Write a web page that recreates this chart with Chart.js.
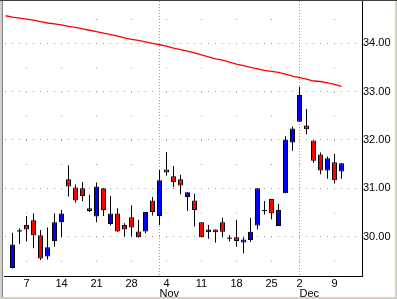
<!DOCTYPE html>
<html><head><meta charset="utf-8">
<script src="https://cdn.jsdelivr.net/npm/chart.js@4/dist/chart.umd.min.js"></script>
<style>html,body{margin:0;padding:0;background:#fff;overflow:hidden}canvas{display:block}</style>
</head><body>
<canvas id="c" width="397" height="299"></canvas>
<script>
// ---- data (2002 trading days) ----
const days = ['Oct 3','Oct 4','Oct 7','Oct 8','Oct 9','Oct 10','Oct 11','Oct 14','Oct 15','Oct 16','Oct 17','Oct 18',
  'Oct 21','Oct 22','Oct 23','Oct 24','Oct 25','Oct 28','Oct 29','Oct 30','Oct 31','Nov 1','Nov 4','Nov 5','Nov 6','Nov 7','Nov 8',
  'Nov 11','Nov 12','Nov 13','Nov 14','Nov 15','Nov 18','Nov 19','Nov 20','Nov 21','Nov 22','Nov 25','Nov 26','Nov 27','Nov 29',
  'Dec 2','Dec 3','Dec 4','Dec 5','Dec 6','Dec 9','Dec 10'];
const open  = [29.35,30.12,30.24,30.34,30.03,29.59,29.91,30.30,31.19,31.02,31.00,30.59,30.42,31.00,30.26,30.48,30.24,30.40,30.11,30.11,30.75,30.43,31.39,31.25,31.19,30.82,30.75,30.30,30.09,30.15,30.30,29.97,29.99,29.88,29.93,30.23,30.54,30.78,30.22,30.90,31.95,32.38,32.30,31.99,31.70,31.37,31.54,31.35];
const high  = [30.08,30.17,30.43,30.48,30.14,30.19,30.48,30.55,31.48,31.08,31.13,30.86,31.12,31.00,30.84,30.59,30.28,30.65,30.35,30.51,30.82,31.38,31.75,31.46,31.28,30.92,30.89,30.30,30.24,30.15,30.39,30.03,30.35,29.99,30.39,31.00,30.74,30.78,30.68,32.08,32.28,33.10,32.64,31.99,31.74,31.66,31.71,31.52];
const low   = [29.34,29.85,29.90,29.76,29.52,29.53,29.79,29.99,30.83,30.70,30.74,30.51,30.30,30.43,30.23,30.10,30.00,30.01,29.98,30.07,30.44,30.24,31.26,31.03,30.88,30.53,30.21,29.99,29.96,29.88,29.99,29.90,29.79,29.66,29.89,30.15,30.46,30.36,30.22,30.90,31.78,32.38,32.12,31.53,31.29,31.20,31.10,31.20];
const close = [29.84,30.12,30.15,30.03,29.55,29.78,30.30,30.48,31.04,30.75,30.84,30.53,31.04,30.55,30.48,30.11,30.15,30.19,29.99,30.51,30.51,31.17,31.33,31.13,31.06,30.92,30.55,29.99,30.15,30.09,30.10,29.97,29.91,29.94,30.10,31.00,30.54,30.48,30.55,32.01,32.24,32.93,32.22,31.57,31.37,31.62,31.17,31.52];
// moving average: first value belongs to the trading day before 'Oct 3'
const ma = [34.57,34.54,34.52,34.50,34.48,34.45,34.42,34.40,34.38,34.35,34.33,34.30,34.27,34.24,34.21,34.18,34.15,34.11,34.08,34.06,34.03,34.00,
  33.97,33.94,33.90,33.87,33.84,33.80,33.76,33.72,33.68,33.65,33.61,33.57,33.54,33.50,33.47,33.44,33.42,33.40,33.36,33.32,33.29,33.26,33.22,33.21,33.18,33.15,33.11];
const weekTickIdx = [2,7,12,17,22,27,32,37,41,46];
const weekTickLabels = ['7','14','21','28','4','11','18','25','2','9'];
const monthTickIdx = [21,41];
const monthTickLabels = ['Nov','Dec'];
const priceTicks = [30,31,32,33,34];

// ---- build ----
const UP = '#0000ff', DOWN = '#ff0000', FLAT = '#000000';
const dojiHalf = 0.0105;
const bodies = open.map((o,i)=>{
  const c = close[i];
  if (o === c) return {x:i, y:[o-dojiHalf, o+dojiHalf]};
  return {x:i, y:[Math.min(o,c), Math.max(o,c)]};
});
const bodyColors = open.map((o,i)=> close[i]>o ? UP : (close[i]<o ? DOWN : FLAT));
const bodyBorders = open.map((o,i)=> close[i]===o ? 0 : 1);
const wicks = high.map((h,i)=>({x:i, y:[low[i], h]}));
const maLine = ma.map((v,k)=>({x:k-1, y:v}));

const X_MIN = -8.5/7, X_MAX = -8.5/7 + 358/7;
const Y_MIN = 29.187, Y_MAX = 34.875;
const FONT = {family:'"Liberation Sans", Arial, sans-serif', size:11};
const GRID = '#a0a0a0';

const frame = {
  id:'frame',
  beforeDraw(chart){ const c=chart.ctx; c.save(); c.fillStyle='#fff'; c.fillRect(0,0,chart.width,chart.height); c.restore(); },
  afterDraw(chart){
    const c=chart.ctx, W=chart.width, H=chart.height; c.save();
    c.fillStyle='#d4d0c8'; c.fillRect(0,0,3,H); c.fillRect(W-2,0,2,H); c.fillRect(0,H-2,W,2);
    c.fillStyle='#808080'; c.fillRect(2,0,1,H-2);
    c.fillStyle='#404040'; c.fillRect(0,0,W,1);
    c.restore();
  }
};
const noPad = s => { s.paddingTop = 0; s.paddingBottom = 0; s.paddingLeft = 0; s.paddingRight = 0; };

Chart.defaults.color = '#000';
Chart.defaults.font = FONT;

new Chart(document.getElementById('c'), {
  type:'bar',
  data:{ datasets:[
    {type:'bar', label:'body', data:bodies, xAxisID:'x', yAxisID:'y', order:0, grouped:false,
      backgroundColor:bodyColors, borderColor:'#000', borderWidth:bodyBorders, borderSkipped:false,
      barThickness:5, maxBarThickness:5, barPercentage:1, categoryPercentage:1, inflateAmount:0},
    {type:'bar', label:'wick', data:wicks, xAxisID:'x', yAxisID:'y', order:1, grouped:false,
      backgroundColor:'#000', borderWidth:0, borderSkipped:false,
      barThickness:1, maxBarThickness:1, barPercentage:1, categoryPercentage:1, inflateAmount:0},
    {type:'line', label:'MA', data:maLine, xAxisID:'x', yAxisID:'y', order:2,
      borderColor:'#ff0000', borderWidth:1.3, pointRadius:0, tension:0, fill:false}
  ]},
  options:{
    responsive:false, animation:false, devicePixelRatio:1,
    layout:{padding:{left:4, top:1, right:0, bottom:0}},
    plugins:{legend:{display:false}, tooltip:{enabled:false}},
    scales:{
      x:{type:'linear', position:'bottom', min:X_MIN, max:X_MAX, weight:0, offset:false,
        afterBuildTicks:s=>{ s.ticks = weekTickIdx.map(v=>({value:v})); },
        afterFit:s=>{ s.height = 12; noPad(s); },
        ticks:{autoSkip:false, maxRotation:0, padding:1, font:FONT,
          callback:(v)=>{ const k=weekTickIdx.indexOf(v); return k<0?'':weekTickLabels[k]; }},
        grid:{color:GRID, drawTicks:false, lineWidth:1, offset:false},
        border:{display:true, color:'#000', width:1, dash:[1,23.175], dashOffset:6.175}},
      x2:{type:'linear', position:'bottom', min:X_MIN, max:X_MAX, weight:1, offset:false,
        afterBuildTicks:s=>{ s.ticks = monthTickIdx.map(v=>({value:v})); },
        afterFit:s=>{ s.height = 11; noPad(s); },
        ticks:{autoSkip:false, maxRotation:0, padding:-1, align:'start', font:FONT,
          callback:(v)=>{ const k=monthTickIdx.indexOf(v); return k<0?'':monthTickLabels[k]; }},
        grid:{color:GRID, drawTicks:false, lineWidth:1, offset:false},
        border:{display:false, dash:[1,2]}},
      y:{type:'linear', position:'right', min:Y_MIN, max:Y_MAX,
        afterBuildTicks:s=>{ s.ticks = priceTicks.map(v=>({value:v})); },
        afterFit:s=>{ s.width = 35; noPad(s); },
        ticks:{padding:1, font:FONT, callback:v=>v.toFixed(2)},
        grid:{color:GRID, drawTicks:false, lineWidth:1},
        border:{display:true, color:'#000', width:1, dash:[1,6], dashOffset:6}}
    }
  },
  plugins:[frame]
});
</script>
</body></html>
